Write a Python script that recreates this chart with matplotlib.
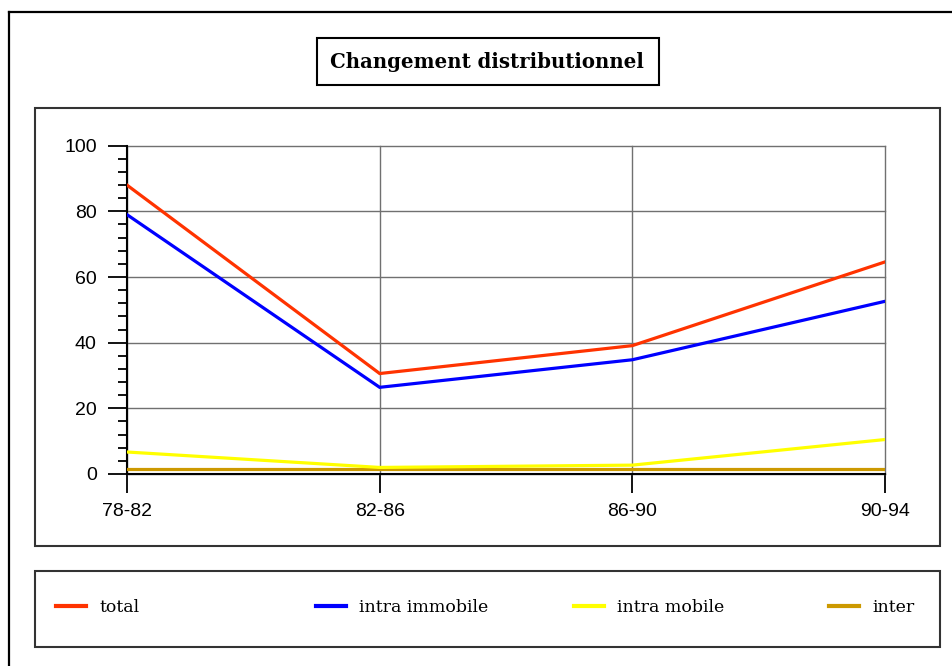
import matplotlib
matplotlib.use("Agg")
import matplotlib.pyplot as plt
from matplotlib.patches import Rectangle
from matplotlib.lines import Line2D
from matplotlib.ticker import MultipleLocator

categories = ["78-82", "82-86", "86-90", "90-94"]
total = [88, 30.6, 39.1, 64.6]
intra_immobile = [79, 26.4, 34.8, 52.6]
intra_mobile = [6.7, 2.0, 2.7, 10.5]
inter = [1.4, 1.4, 1.4, 1.4]
series_names = ["total", "intra immobile", "intra mobile", "inter"]
colors = ["#FF3300", "#0000FF", "#FFFF00", "#CC9900"]
title = "Changement distributionnel"

W, H = 952, 666
fig = plt.figure(figsize=(W / 100, H / 100), dpi=100)

def fx(px):
    return px / W

def fy(py):
    return 1 - py / H

# outer frame (left & top lines)
fig.add_artist(Line2D([fx(9), fx(9)], [fy(12), fy(666)], color="black", lw=1.6))
fig.add_artist(Line2D([fx(9), fx(952)], [fy(12), fy(12)], color="black", lw=1.6))

def box(x0, y0, x1, y1, lw=1.5, color="#333333"):
    fig.add_artist(Rectangle((fx(x0), fy(y1)), fx(x1) - fx(x0), fy(y0) - fy(y1),
                             transform=fig.transFigure, fill=False, edgecolor=color,
                             lw=lw, zorder=0))

box(35, 108, 940, 546)   # chart area
box(35, 571, 940, 647)   # legend area
box(317, 38, 659, 85, color="black")  # title box

fig.text(fx(487), fy(61.5), title, ha="center", va="center", fontsize=14.2,
         fontweight="bold", family="DejaVu Serif")

ax = fig.add_axes([fx(127), fy(474), fx(885) - fx(127), fy(145.7) - fy(474)])
x = list(range(len(categories)))
ax.plot(x, total, color=colors[0], lw=2.3, zorder=3, solid_joinstyle="miter")
ax.plot(x, intra_immobile, color=colors[1], lw=2.3, zorder=3, solid_joinstyle="miter")
ax.plot(x, inter, color=colors[3], lw=2.3, zorder=3)
ax.plot(x, intra_mobile, color=colors[2], lw=2.3, zorder=4)

ax.set_xlim(0, len(categories) - 1)
ax.set_ylim(0, 100)
ax.set_xticks(x)
ax.set_xticklabels(categories)
ax.yaxis.set_major_locator(MultipleLocator(20))
ax.yaxis.set_minor_locator(MultipleLocator(4))
ax.grid(True, which="major", color="#707070", lw=1.0)
ax.set_axisbelow(True)
for gl in ax.get_xgridlines() + ax.get_ygridlines():
    gl.set_clip_on(False)
for s in ["top", "right"]:
    ax.spines[s].set_visible(False)
for s in ["left", "bottom"]:
    ax.spines[s].set_color("black")
    ax.spines[s].set_linewidth(1.5)
ax.tick_params(axis="y", which="major", direction="out", length=13.7, width=1.3,
               pad=8, labelsize=14, colors="black")
ax.tick_params(axis="y", which="minor", direction="out", length=6.5, width=1.3)
ax.tick_params(axis="x", which="major", direction="out", length=13.7, width=1.3,
               pad=7, labelsize=14)
for lab in ax.get_xticklabels() + ax.get_yticklabels():
    lab.set_family("Liberation Sans")
ax.set_facecolor("white")
ax.patch.set_alpha(0)

# legend entries
leg_x = [56, 316, 574, 829]
for name, col, lx in zip(series_names, colors, leg_x):
    h = Line2D([], [], color=col, lw=3)
    fig.legend([h], [name], loc="center left", bbox_to_anchor=(fx(lx), fy(608)),
               frameon=False, handlelength=1.75, handletextpad=0.75, borderpad=0,
               borderaxespad=0,
               prop={"family": "DejaVu Serif", "size": 12.5})

fig.savefig("out.png", dpi=100)
